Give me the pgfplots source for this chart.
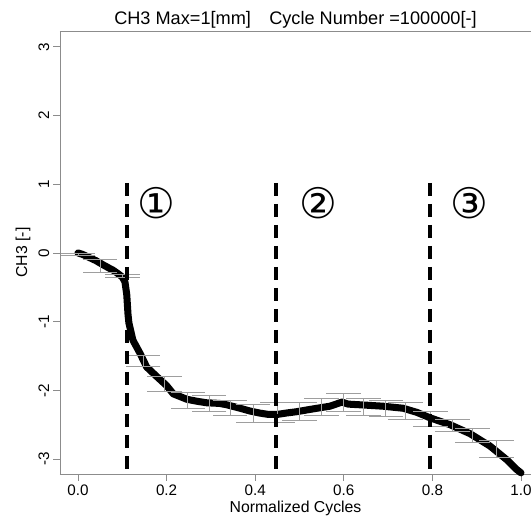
\documentclass[border=0pt]{standalone}
\usepackage{pgfplots}
\pgfplotsset{compat=1.18}
\usepackage{fontspec}
\setmainfont{Liberation Sans}
\newfontfamily\dejavu{DejaVu Sans}

\definecolor{boxgray}{HTML}{8C8C8C}
\definecolor{bargray}{HTML}{9E9E9E}

\begin{document}
\begin{tikzpicture}
\begin{axis}[
    scale only axis, width=14.13cm, height=13.29cm,
    xmin=-0.0406, xmax=1.0226, ymin=-3.217, ymax=3.23,
    axis x line*=box, axis y line*=left,
    axis line style={boxgray, line width=0.7pt},
    xtick pos=bottom, ytick pos=left,
    tick align=outside, major tick length=0.2cm,
    tick style={boxgray, line width=0.7pt},
    xtick={0,0.2,0.4,0.6,0.8,1.0},
    xticklabels={0.0,0.2,0.4,0.6,0.8,1.0},
    ytick={-3,-2,-1,0,1,2,3},
    yticklabels={-3,-2,-1,0,1,2,3},
    /pgf/number format/assume math mode=true,
    ticklabel style={font=\fontsize{13}{15}\selectfont},
    yticklabel style={rotate=90, anchor=south},
    xlabel={Normalized Cycles}, ylabel={CH3 [-]},
    label style={font=\fontsize{13.5}{15}\selectfont},
    xlabel style={yshift=2pt},
    title={CH3 Max=1[mm]\hspace{0.55cm}Cycle Number =100000[-]},
    title style={font=\fontsize{15.5}{17}\selectfont, yshift=-7pt},
    clip=false,
]
% measured curve
\addplot[black, line width=6pt, line join=round, line cap=round, mark=none] coordinates {
  (0,0) (0.01,-0.02) (0.02,-0.05) (0.03,-0.08) (0.04,-0.11) (0.056,-0.17)
  (0.07,-0.22) (0.079,-0.25) (0.09,-0.3) (0.1,-0.35) (0.106,-0.42)
  (0.11,-0.6) (0.113,-0.9) (0.115,-1.02) (0.124,-1.27) (0.14,-1.46)
  (0.155,-1.66) (0.178,-1.8) (0.2,-1.93) (0.215,-2.05) (0.246,-2.13)
  (0.27,-2.16) (0.29,-2.18) (0.32,-2.19) (0.336,-2.21) (0.366,-2.26)
  (0.388,-2.3) (0.41,-2.33) (0.43,-2.35) (0.45,-2.35) (0.47,-2.33)
  (0.494,-2.31) (0.53,-2.27) (0.569,-2.23) (0.596,-2.17) (0.61,-2.2)
  (0.637,-2.21) (0.688,-2.23) (0.734,-2.26) (0.765,-2.32) (0.795,-2.4)
  (0.84,-2.5) (0.885,-2.63) (0.93,-2.81) (0.968,-3.01) (0.99,-3.15) (1.0,-3.2)
};
% error bars (gray, wide caps)
\addplot[draw=none, mark=none,
    error bars/.cd, y dir=both, y explicit,
    error mark options={bargray, line width=0.7pt, mark size=0.52cm, rotate=90},
    error bar style={draw=bargray, line width=0.7pt}]
coordinates {
  (0.0,-0.02) +- (0,0.015)
  (0.05,-0.19) +- (0,0.10)
  (0.1,-0.335) +- (0,0.025)
  (0.147,-1.57) +- (0,0.08)
  (0.196,-1.91) +- (0,0.11)
  (0.248,-2.145) +- (0,0.115)
  (0.296,-2.19) +- (0,0.12)
  (0.343,-2.255) +- (0,0.115)
  (0.395,-2.335) +- (0,0.125)
  (0.45,-2.325) +- (0,0.145)
  (0.5,-2.30) +- (0,0.13)
  (0.55,-2.24) +- (0,0.13)
  (0.6,-2.175) +- (0,0.135)
  (0.645,-2.24) +- (0,0.13)
  (0.695,-2.26) +- (0,0.12)
  (0.74,-2.30) +- (0,0.12)
  (0.795,-2.415) +- (0,0.105)
  (0.845,-2.505) +- (0,0.085)
  (0.89,-2.65) +- (0,0.10)
  (0.945,-2.85) +- (0,0.12)
};
% stage boundaries
\addplot[black, line width=3.2pt, dash pattern=on 0.39cm off 0.24cm] coordinates {(0.11,1.02) (0.11,-3.217)};
\addplot[black, line width=3.2pt, dash pattern=on 0.39cm off 0.24cm] coordinates {(0.447,1.02) (0.447,-3.217)};
\addplot[black, line width=3.2pt, dash pattern=on 0.39cm off 0.24cm] coordinates {(0.795,1.02) (0.795,-3.217)};
\node[font=\dejavu\fontsize{36}{36}\selectfont] at (axis cs:0.178,0.72) {①};
\node[font=\dejavu\fontsize{36}{36}\selectfont] at (axis cs:0.542,0.72) {②};
\node[font=\dejavu\fontsize{36}{36}\selectfont] at (axis cs:0.883,0.72) {③};
\end{axis}
\pgfresetboundingbox
\path[use as bounding box] ([xshift=-1.8cm,yshift=-1.38cm]current axis.south west) rectangle ([yshift=0.93cm]current axis.north east);
\end{tikzpicture}
\end{document}
